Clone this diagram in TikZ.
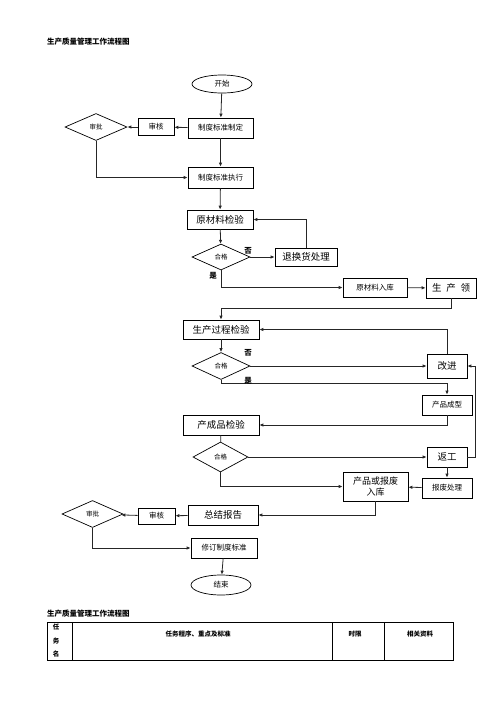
\documentclass[tikz,border=0pt]{standalone}
\usepackage{fontspec}
\setmainfont{Noto Sans CJK SC}
\usetikzlibrary{shapes.geometric,arrows.meta}
\begin{document}
\begin{tikzpicture}[x=1pt,y=-1pt,
  every node/.style={font=\fontsize{7.5}{9}\selectfont, inner sep=0pt},
  box/.style={draw, line width=0.7pt, rectangle, align=center},
  big/.style={font=\fontsize{9.5}{11}\selectfont},
  dia/.style={draw, line width=0.7pt, diamond, font=\fontsize{6.5}{8}\selectfont},
  oval/.style={draw, line width=0.7pt, ellipse, minimum width=60pt, minimum height=18pt},
  lab/.style={font=\bfseries\fontsize{7.5}{9}\selectfont},
  ln/.style={line width=0.8pt, black!85},
  arr/.style={ln, -{Latex[length=4pt,width=3.5pt]}}
]
\useasboundingbox (0,0) rectangle (496,702);
% title
\node[lab, anchor=west] (title1) at (47,42) {生产质量管理工作流程图};

% nodes
\node[oval] (start) at (222,84) {开始};
\node[box, minimum width=65pt, minimum height=20pt] (zd) at (220.5,128) {制度标准制定};
\node[box, minimum width=36pt, minimum height=17pt] (sh1) at (156,127) {审核};
\node[dia, minimum width=62pt, minimum height=27pt] (sp1) at (96,127) {审批};
\node[box, minimum width=65pt, minimum height=21pt] (zx) at (220.5,177.5) {制度标准执行};
\node[box, big, minimum width=66pt, minimum height=19pt] (ycl) at (220,219.5) {原材料检验};
\node[dia, minimum width=58pt, minimum height=26pt] (hg1) at (221,257) {合格};
\node[box, big, minimum width=62pt, minimum height=18pt] (th) at (306,257) {退换货处理};
\node[box, minimum width=64pt, minimum height=19pt] (rk) at (375,287.5) {原材料入库};
\node[box, big, minimum width=50pt, minimum height=20pt] (sc) at (451,288) {生\hspace{0.5em}产\hspace{0.5em}领};
\coordinate (j1) at (221,308);
\node[box, big, minimum width=76pt, minimum height=19pt] (gc) at (221,329.5) {生产过程检验};
\node[dia, minimum width=58pt, minimum height=27pt] (hg2) at (221,366) {合格};
\node[box, big, minimum width=40pt, minimum height=24pt] (gj) at (447,366) {改进};
\node[box, minimum width=50pt, minimum height=20pt] (cx) at (447,405) {产品成型};
\node[box, big, minimum width=76pt, minimum height=20pt] (cp) at (221,425) {产成品检验};
\node[dia, minimum width=55pt, minimum height=30pt] (hg3) at (220.5,457) {合格};
\node[box, big, minimum width=40pt, minimum height=20pt] (fg) at (447,457) {返工};
\node[box, minimum width=50pt, minimum height=20pt] (bf) at (447,488) {报废处理};
\node[box, big, minimum width=65pt, minimum height=29pt, font=\fontsize{9}{11}\selectfont] (cprk) at (375.5,486.5) {产品或报废\\入库};
\node[box, big, minimum width=70pt, minimum height=20pt] (zj) at (223,515) {总结报告};
\node[box, minimum width=37pt, minimum height=16pt] (sh2) at (156.5,516) {审核};
\node[dia, minimum width=61pt, minimum height=27pt] (sp2) at (92.5,514) {审批};
\node[box, minimum width=66pt, minimum height=20pt] (xd) at (224,548) {修订制度标准};
\node[oval, minimum height=20pt] (end) at (221,585) {结束};

% connectors
\draw[arr] (start) -- (zd);
\draw[arr] (zd) -- (sh1);
\draw[arr] (sh1) -- (sp1);
\draw[arr] (sp1.south) |- (zx.west);
\draw[arr] (zd) -- (zx);
\draw[arr] (zx) -- (ycl);
\draw[arr] (ycl) -- (hg1);
\draw[arr] (hg1.east) -- (th.west);
\draw[arr] (th.north) |- (ycl.east);
\draw[arr] (hg1.south) |- (rk.west);
\draw[arr] (rk) -- (sc);
\draw[arr] (sc.south) |- (j1) -- (gc.north);
\draw[arr] (gc) -- (hg2);
\draw[arr] (hg2.east) -- (gj.west);
\draw[arr] (gj.north) |- (gc.east);
\draw[arr] (hg2.south) -- ++(0,4) -| (cx.north);
\draw[arr] (cx.south) |- (cp.east);
\draw[ln] (cp) -- (hg3);
\draw[arr] (hg3.east) -- (fg.west);
\draw[arr] (fg.east) -- ++(8,0) |- (gj.east);
\draw[arr] (fg) -- (bf);
\draw[arr] (bf) -- (cprk);
\draw[arr] (hg3.south) |- (cprk.west);
\draw[arr] (cprk.south) |- (zj.east);
\draw[arr] (zj) -- (sh2);
\draw[arr] (sh2) -- (sp2);
\draw[arr] (sp2.south) |- (xd.west);
\draw[arr] (xd) -- (end);

% labels
\node[lab] (no1) at (248,251) {否};
\node[lab] (yes1) at (213,276) {是};
\node[lab] (no2) at (248,353) {否};
\node[lab] (yes2) at (248,381) {是};

% table
\node[lab, anchor=west] (title2) at (47,614) {生产质量管理工作流程图};
\draw[line width=0.8pt] (47,622) rectangle (453,660);
\draw[line width=0.8pt] (72,622) -- (72,660) (332,622) -- (332,660) (384,622) -- (384,660);
\node[lab, font=\bfseries\fontsize{6.5}{8}\selectfont] (t1) at (56,627) {任};
\node[lab, font=\bfseries\fontsize{6.5}{8}\selectfont] (t2) at (56,641) {务};
\node[lab, font=\bfseries\fontsize{6.5}{8}\selectfont] (t3) at (56,654) {名};
\node[lab, font=\bfseries\fontsize{6.5}{8}\selectfont] (h2) at (198,634) {任务程序、重点及标准};
\node[lab, font=\bfseries\fontsize{6.5}{8}\selectfont] (h3) at (355,634) {时限};
\node[lab, font=\bfseries\fontsize{6.5}{8}\selectfont] (h4) at (420,634) {相关资料};
\end{tikzpicture}
\end{document}
